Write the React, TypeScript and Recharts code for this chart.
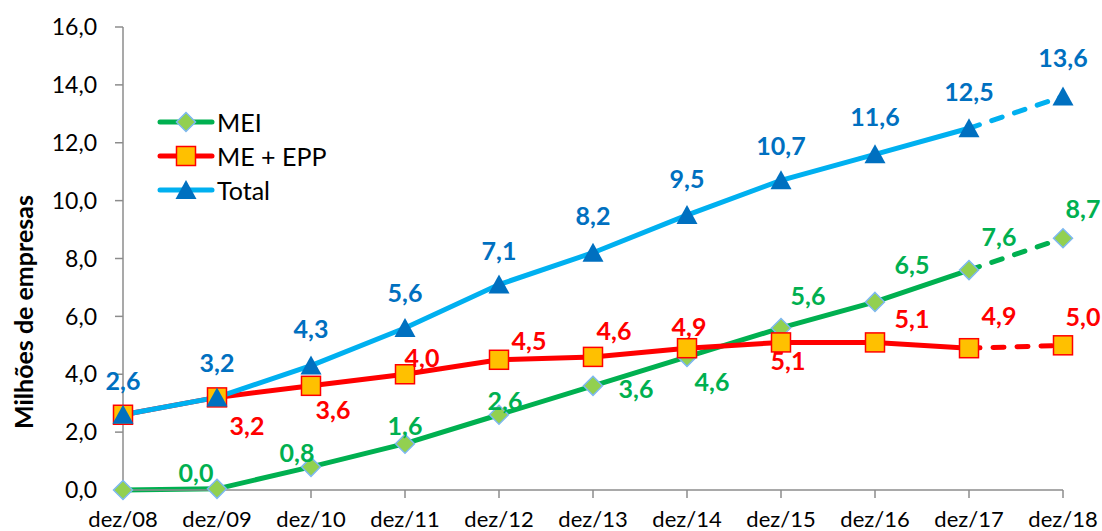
import React from 'react'
import { LineChart, Line, XAxis, YAxis, Legend, LabelList } from 'recharts'

const categories = ['dez/08', 'dez/09', 'dez/10', 'dez/11', 'dez/12', 'dez/13', 'dez/14', 'dez/15', 'dez/16', 'dez/17', 'dez/18']
const meiValues = [0.0, 0.04, 0.8, 1.6, 2.6, 3.6, 4.6, 5.6, 6.5, 7.6, 8.7]
const meEppValues = [2.6, 3.2, 3.6, 4.0, 4.5, 4.6, 4.9, 5.1, 5.1, 4.9, 5.0]
const totalValues = [2.6, 3.2, 4.3, 5.6, 7.1, 8.2, 9.5, 10.7, 11.6, 12.5, 13.6]
const yTicks = [0, 2, 4, 6, 8, 10, 12, 14, 16]
const lastActual = 9 // dez/17, the segment after it is a projection

// label offsets (dx, dy) from each point, null = no label
const meiLabelPos: Array<[number, number] | null> = [null, [-21, -17], [-14, -15], [0, -19], [6, -15], [43, 2], [25, 24], [27, -33], [37, -38], [30, -34], [20, -30]]
const meEppLabelPos: Array<[number, number] | null> = [null, [30, 28], [22, 23], [17, -17], [30, -20], [21, -27], [2, -22], [7, 18], [37, -24], [30, -33], [20, -29]]
const totalLabelPos: Array<[number, number] | null> = [[0, -35], [0, -35], [0, -38], [0, -36], [0, -35], [0, -38], [0, -37], [0, -35], [0, -38], [0, -37], [0, -39]]

const FONT = 'Lato, "Open Sans", sans-serif'
const GREEN = '#00B050'
const RED = '#FF0000'
const CYAN = '#00B0F0'
const BLUE = '#0070C0'
const AXIS = '#8C8C8C'

const data = categories.map((cat, i) => ({
  cat,
  mei: i <= lastActual ? meiValues[i] : null,
  meiProj: i >= lastActual ? meiValues[i] : null,
  meEpp: i <= lastActual ? meEppValues[i] : null,
  meEppProj: i >= lastActual ? meEppValues[i] : null,
  total: i <= lastActual ? totalValues[i] : null,
  totalProj: i >= lastActual ? totalValues[i] : null,
}))

const fmt = (v: number) => v.toFixed(1).replace('.', ',')

const diamond = (x: number, y: number, key?: any) => (
  <path key={key} d={`M${x},${y - 9.5}L${x + 9.5},${y}L${x},${y + 9.5}L${x - 9.5},${y}Z`} fill="#92D050" stroke="#7DB8F0" strokeWidth={1.5} />
)
const square = (x: number, y: number, key?: any) => (
  <rect key={key} x={x - 9.5} y={y - 9.5} width={19} height={19} fill="#FFC000" stroke={RED} strokeWidth={1.5} />
)
const triangle = (x: number, y: number, key?: any) => (
  <polygon key={key} points={`${x},${y - 10} ${x + 10.5},${y + 9} ${x - 10.5},${y + 9}`} fill={BLUE} />
)

const makeDot = (shape: (x: number, y: number, key?: any) => React.ReactElement, only?: number) => (props: any) => {
  const { cx, cy, index, value } = props
  if (cx == null || cy == null || value == null || (only != null && index !== only)) return <g key={index} />
  return shape(cx, cy, index)
}

const makeLabel = (pos: Array<[number, number] | null>, color: string, only?: number) => (props: any) => {
  const { index, value } = props
  const x = props.x ?? props.viewBox?.x
  const y = props.y ?? props.viewBox?.y
  const off = pos[index]
  if (value == null || off == null || x == null || (only != null && index !== only)) return null
  if (only == null && index > lastActual) return null
  return (
    <text key={index} x={x + off[0]} y={y + off[1]} textAnchor="middle" dominantBaseline="central"
      fill={color} fontFamily={FONT} fontSize={25} fontWeight="bold">
      {fmt(value)}
    </text>
  )
}

const legendItems = [
  { name: 'MEI', color: GREEN, shape: diamond },
  { name: 'ME + EPP', color: RED, shape: square },
  { name: 'Total', color: CYAN, shape: triangle },
]

const LegendBox = () => (
  <div style={{ fontFamily: FONT, fontSize: 25, color: '#000' }}>
    {legendItems.map((it) => (
      <div key={it.name} style={{ display: 'flex', alignItems: 'center', height: 34 }}>
        <svg width={60} height={24} style={{ display: 'block' }}>
          <line x1={3} y1={12} x2={55} y2={12} stroke={it.color} strokeWidth={5} strokeLinecap="round" />
          {it.shape(29, 12)}
        </svg>
        <span style={{ lineHeight: '24px' }}>{it.name}</span>
      </div>
    ))}
  </div>
)

const YTitle = () => (
  <text x={23} y={312} transform="rotate(-90 23 312)" textAnchor="middle" dominantBaseline="central"
    fontFamily={FONT} fontSize={25} fontWeight="bold" fill="#000">
    Milhões de empresas
  </text>
)

export default function App() {
  return (
    <div style={{ position: 'absolute', left: 0, top: 0, width: 1102, height: 531, background: '#fff' }}>
      <LineChart width={1102} height={531} data={data} margin={{ top: 27, right: 39, left: 0, bottom: 0 }}>
        <XAxis dataKey="cat" scale="point" padding={{ left: 0, right: 0 }} height={41}
          tick={{ fill: '#000', stroke: 'none', fontFamily: FONT, fontSize: 22 }} tickSize={8} tickMargin={13}
          stroke={AXIS} strokeWidth={1.5} interval={0} />
        <YAxis domain={[0, 16]} ticks={yTicks} width={123} tickFormatter={fmt}
          tick={{ fill: '#000', stroke: 'none', fontFamily: FONT, fontSize: 23 }} tickSize={8} tickMargin={18}
          stroke={AXIS} strokeWidth={1.5} label={{ content: () => <YTitle /> }} />
        <Legend layout="vertical" align="center" verticalAlign="middle" content={() => <LegendBox />}
          wrapperStyle={{ left: 157, top: 105, width: 'auto', height: 'auto' }} />

        <Line dataKey="meiProj" stroke={GREEN} strokeWidth={5} strokeDasharray="11 13" strokeLinecap="round"
          dot={makeDot(diamond, 10)} activeDot={false} isAnimationActive={false} connectNulls={false}>
          <LabelList dataKey="meiProj" content={makeLabel(meiLabelPos, GREEN, 10)} />
        </Line>
        <Line dataKey="mei" stroke={GREEN} strokeWidth={5} dot={makeDot(diamond)} activeDot={false} isAnimationActive={false}>
          <LabelList dataKey="mei" content={makeLabel(meiLabelPos, GREEN)} />
        </Line>

        <Line dataKey="meEppProj" stroke={RED} strokeWidth={5} strokeDasharray="11 13" strokeLinecap="round"
          dot={makeDot(square, 10)} activeDot={false} isAnimationActive={false}>
          <LabelList dataKey="meEppProj" content={makeLabel(meEppLabelPos, RED, 10)} />
        </Line>
        <Line dataKey="meEpp" stroke={RED} strokeWidth={5} dot={makeDot(square)} activeDot={false} isAnimationActive={false}>
          <LabelList dataKey="meEpp" content={makeLabel(meEppLabelPos, RED)} />
        </Line>

        <Line dataKey="totalProj" stroke={CYAN} strokeWidth={5} strokeDasharray="11 13" strokeLinecap="round"
          dot={makeDot(triangle, 10)} activeDot={false} isAnimationActive={false}>
          <LabelList dataKey="totalProj" content={makeLabel(totalLabelPos, BLUE, 10)} />
        </Line>
        <Line dataKey="total" stroke={CYAN} strokeWidth={5} dot={makeDot(triangle)} activeDot={false} isAnimationActive={false}>
          <LabelList dataKey="total" content={makeLabel(totalLabelPos, BLUE)} />
        </Line>
      </LineChart>
    </div>
  )
}
